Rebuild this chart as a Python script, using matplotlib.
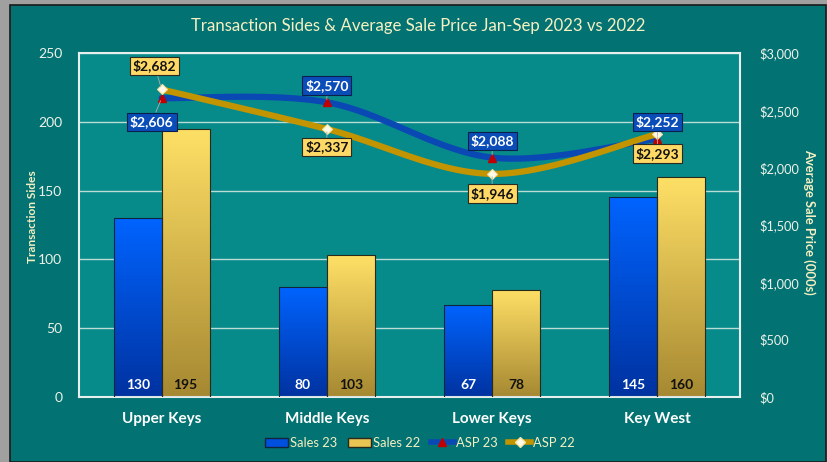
import numpy as np
import matplotlib
matplotlib.use('Agg')
import matplotlib.pyplot as plt
from matplotlib.patches import Rectangle, Patch
from matplotlib.lines import Line2D
from matplotlib.colors import LinearSegmentedColormap
from matplotlib.ticker import FuncFormatter, MultipleLocator

plt.rcParams['font.family'] = ['Lato', 'DejaVu Sans']

# data
regions = ['Upper Keys', 'Middle Keys', 'Lower Keys', 'Key West']
sales_23 = [130, 80, 67, 145]
sales_22 = [195, 103, 78, 160]
asp_23 = [2606, 2570, 2088, 2252]
asp_22 = [2682, 2337, 1946, 2293]

outer_bg = '#037272'
plot_bg = '#078a8a'
txt_col = '#f6f0c2'
tick_col = '#eef3ea'


def smooth(xs, ys, n=40):
    # catmull-rom style smoothing like excel's "smoothed line"
    xs = np.asarray(xs, float)
    ys = np.asarray(ys, float)
    px = np.concatenate([[xs[0]], xs, [xs[-1]]])
    py = np.concatenate([[ys[0]], ys, [ys[-1]]])
    ox, oy = [], []
    for i in range(1, len(px) - 2):
        p0 = np.array([px[i - 1], py[i - 1]])
        p1 = np.array([px[i], py[i]])
        p2 = np.array([px[i + 1], py[i + 1]])
        p3 = np.array([px[i + 2], py[i + 2]])
        c1 = p1 + (p2 - p0) / 6
        c2 = p2 - (p3 - p1) / 6
        t = np.linspace(0, 1, n)[:, None]
        pts = (1 - t) ** 3 * p1 + 3 * (1 - t) ** 2 * t * c1 + 3 * (1 - t) * t ** 2 * c2 + t ** 3 * p2
        ox.extend(pts[:, 0])
        oy.extend(pts[:, 1])
    return ox, oy


fig = plt.figure(figsize=(8.28, 4.62), dpi=100)
fig.patch.set_facecolor('#a0a0a0')
fig.patches.append(Rectangle((10 / 828, 0), 816 / 828, 457 / 462, transform=fig.transFigure,
                             facecolor=outer_bg, edgecolor='#1a1a1a', linewidth=1.2, zorder=-10))

ax = fig.add_axes([79 / 828, 65 / 462, 661 / 828, 344 / 462])
ax.set_facecolor(plot_bg)
x = np.arange(len(regions))
w = 0.29

blue_cmap = LinearSegmentedColormap.from_list('b', ['#0032a0', '#0064ff'])
gold_cmap = LinearSegmentedColormap.from_list('g', ['#a68832', '#ffe066'])
grad = np.linspace(0, 1, 256)[:, None]

bars23 = ax.bar(x - w / 2, sales_23, w, facecolor='none', edgecolor='#10263a', linewidth=0.8, zorder=3)
bars22 = ax.bar(x + w / 2, sales_22, w, facecolor='none', edgecolor='#2a2a1a', linewidth=0.8, zorder=3)
for bars, cm in [(bars23, blue_cmap), (bars22, gold_cmap)]:
    for b in bars:
        bx, by = b.get_x(), b.get_y()
        im = ax.imshow(grad, cmap=cm, origin='lower', aspect='auto', zorder=2,
                       extent=[bx, bx + b.get_width(), by, by + b.get_height()])
        im.set_clip_path(b)

for i in range(len(regions)):
    ax.text(x[i] - w / 2, 9, str(sales_23[i]), ha='center', va='center', color='white',
            fontsize=10, fontweight='bold', zorder=4)
    ax.text(x[i] + w / 2, 9, str(sales_22[i]), ha='center', va='center', color='#111111',
            fontsize=10, fontweight='bold', zorder=4)

ax.set_xlim(-0.5, 3.5)
ax.set_ylim(0, 250)
ax.yaxis.set_major_locator(MultipleLocator(50))
ax.grid(axis='y', color='#b9dcd6', linewidth=1, zorder=1)
ax.set_axisbelow(True)
ax.set_xticks(x)
ax.set_xticklabels(regions, fontsize=11, fontweight='bold', color='white')
ax.tick_params(axis='x', length=0, pad=11)
ax.tick_params(axis='y', length=0, pad=12, labelsize=10, labelcolor=tick_col)
for s in ax.spines.values():
    s.set_color('#e6eeee')
    s.set_linewidth(1.5)
ax.set_ylabel('Transaction Sides', color=txt_col, fontsize=8.6, fontweight='bold', va='center')
ax.yaxis.set_label_coords(-0.071, 0.525)

ax2 = ax.twinx()
ax2.set_ylim(0, 3000)
ax2.yaxis.set_major_locator(MultipleLocator(500))
ax2.yaxis.set_major_formatter(FuncFormatter(lambda v, p: '${:,.0f}'.format(v)))
ax2.tick_params(axis='y', length=0, pad=14, labelsize=9.2, labelcolor=tick_col)
for s in ax2.spines.values():
    s.set_visible(False)
ax2.set_ylabel('Average Sale Price (000s)', color=txt_col, fontsize=9.3, fontweight='bold',
               rotation=270, va='center')
ax2.yaxis.set_label_coords(1.105, 0.51)

sx, sy = smooth(x, asp_23)
ax2.plot(sx, sy, color='#0a48b4', linewidth=4.5, solid_capstyle='round', zorder=3)
ax2.plot(x, asp_23, linestyle='none', marker='^', markersize=6, color='#c00000', zorder=5)
sx, sy = smooth(x, asp_22)
ax2.plot(sx, sy, color='#c29400', linewidth=4.5, solid_capstyle='round', zorder=4)
ax2.plot(x, asp_22, linestyle='none', marker='D', markersize=5.5, markerfacecolor='#fffbe8',
         markeredgecolor='#f2e3a0', markeredgewidth=0.8, zorder=6)

# label offsets in points (dx, dy)
off_23 = [(-7, -17), (0, 12), (0, 12), (0, 12)]
off_22 = [(-5, 17), (0, -13), (0, -14), (0, -14)]
for i in range(len(regions)):
    ax2.annotate('${:,}'.format(asp_23[i]), (x[i], asp_23[i]), xytext=off_23[i],
                 textcoords='offset points', ha='center', va='center', color='white',
                 fontsize=10, fontweight='bold', zorder=7,
                 bbox=dict(boxstyle='square,pad=0.2', facecolor='#0a4db8', edgecolor='#0a1f4a', linewidth=0.8),
                 arrowprops=dict(arrowstyle='-', color='#b0b0b0', linewidth=0.6, shrinkA=0, shrinkB=2))
    ax2.annotate('${:,}'.format(asp_22[i]), (x[i], asp_22[i]), xytext=off_22[i],
                 textcoords='offset points', ha='center', va='center', color='#111111',
                 fontsize=10, fontweight='bold', zorder=7,
                 bbox=dict(boxstyle='square,pad=0.2', facecolor='#ffd966', edgecolor='#2a2a20', linewidth=0.8),
                 arrowprops=dict(arrowstyle='-', color='#b0b0b0', linewidth=0.6, shrinkA=0, shrinkB=2))

fig.text(418 / 828, 1 - 26 / 462, 'Transaction Sides & Average Sale Price Jan-Sep 2023 vs 2022',
         ha='center', va='center', color=txt_col, fontsize=12.1)

handles = [Patch(facecolor='#0050e0', edgecolor='#10263a'),
           Patch(facecolor='#e8c452', edgecolor='#2a2a1a'),
           Line2D([], [], color='#0a48b4', linewidth=4, marker='^', markersize=6,
                  markerfacecolor='#c00000', markeredgecolor='#c00000'),
           Line2D([], [], color='#c29400', linewidth=4, marker='D', markersize=5,
                  markerfacecolor='#fffbe8', markeredgecolor='#f2e3a0')]
leg = fig.legend(handles, ['Sales 23', 'Sales 22', 'ASP 23', 'ASP 22'], ncol=4, loc='center',
                 bbox_to_anchor=(420 / 828, 1 - 443 / 462), frameon=False, fontsize=9.3,
                 handlelength=1.8, handletextpad=0.15, columnspacing=0.8, labelcolor=txt_col)

fig.savefig('out.png', dpi=100, facecolor=fig.get_facecolor())
